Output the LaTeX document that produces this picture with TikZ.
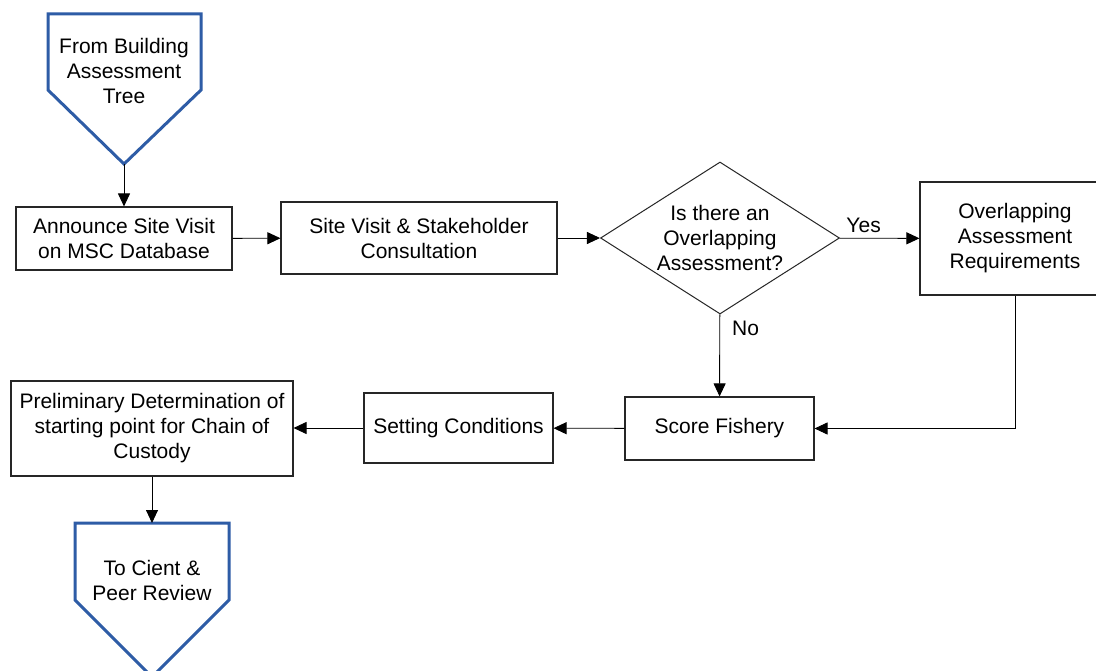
\documentclass[tikz,border=0pt]{standalone}
\usepackage{fontspec}
\setmainfont{Liberation Sans}
\usetikzlibrary{shapes.geometric,arrows.meta}
\definecolor{pentblue}{RGB}{46,92,166}
\begin{document}
\begin{tikzpicture}[x=1pt,y=-1pt,
  every node/.style={font=\fontsize{21}{25}\selectfont, align=center, inner sep=0pt},
  procbox/.style={draw=black!85, line width=1.1pt, rectangle},
  decbox/.style={draw=black!85, line width=1pt, diamond, minimum width=239pt, minimum height=152pt},
  pentpath/.style={draw=pentblue, line width=3pt, line join=miter},
  arr/.style={draw=black, line width=0.9pt, -{Triangle[length=13pt,width=12pt]}},
  lbl/.style={font=\fontsize{21}{25}\selectfont}
]
\clip (0,0) rectangle (1096,671);
\fill[white] (0,0) rectangle (1096,671);

% top off-page connector
\draw[pentpath] (48,14) -- (201,14) -- (201,90) -- (124,164) -- (48,90) -- cycle;
\node (fromt) at (124,71) {From Building\\Assessment\\Tree};
\coordinate (toptip) at (124,164);

% process boxes
\node[procbox, minimum width=216pt, minimum height=63pt] (ann) at (124,238.5) {Announce Site Visit\\on MSC Database};
\node[procbox, minimum width=276pt, minimum height=72pt] (site) at (419,238) {Site Visit \& Stakeholder\\Consultation};
\node[decbox] (dec) at (720,238) {};
\node (dectxt) at (720,238) {Is there an\\Overlapping\\Assessment?};
\node[procbox, minimum width=190pt, minimum height=113pt] (ovl) at (1015,238.5) {Overlapping\\Assessment\\Requirements};
\node[procbox, minimum width=189pt, minimum height=63pt] (score) at (719.5,428.5) {Score Fishery};
\node[procbox, minimum width=189pt, minimum height=70pt] (sett) at (458.5,428) {Setting Conditions};
\node[procbox, minimum width=282pt, minimum height=95pt] (prel) at (152,428.5) {Preliminary Determination of\\starting point for Chain of\\Custody};

% bottom off-page connector
\draw[pentpath] (75,523) -- (229,523) -- (229,600) -- (152,677) -- (75,600) -- cycle;
\node (tot) at (152,580) {To Cient \&\\Peer Review};
\coordinate (bottop) at (152,523);

% connectors
\draw[arr] (toptip) -- (ann);
\draw[arr] (ann) -- (site);
\draw[arr] (site) -- (dec);
\draw[arr] (dec) -- node[lbl, pos=0.3, above=5pt] {Yes} (ovl);
\draw[arr] (dec) -- node[lbl, pos=0.17, right=12pt] {No} (score);
\draw[arr] (ovl.south) |- (score.east);
\draw[arr] (score) -- (sett);
\draw[arr] (sett.west) -- (sett.west -| prel.east);
\draw[arr] (prel) -- (bottop);
\end{tikzpicture}
\end{document}
